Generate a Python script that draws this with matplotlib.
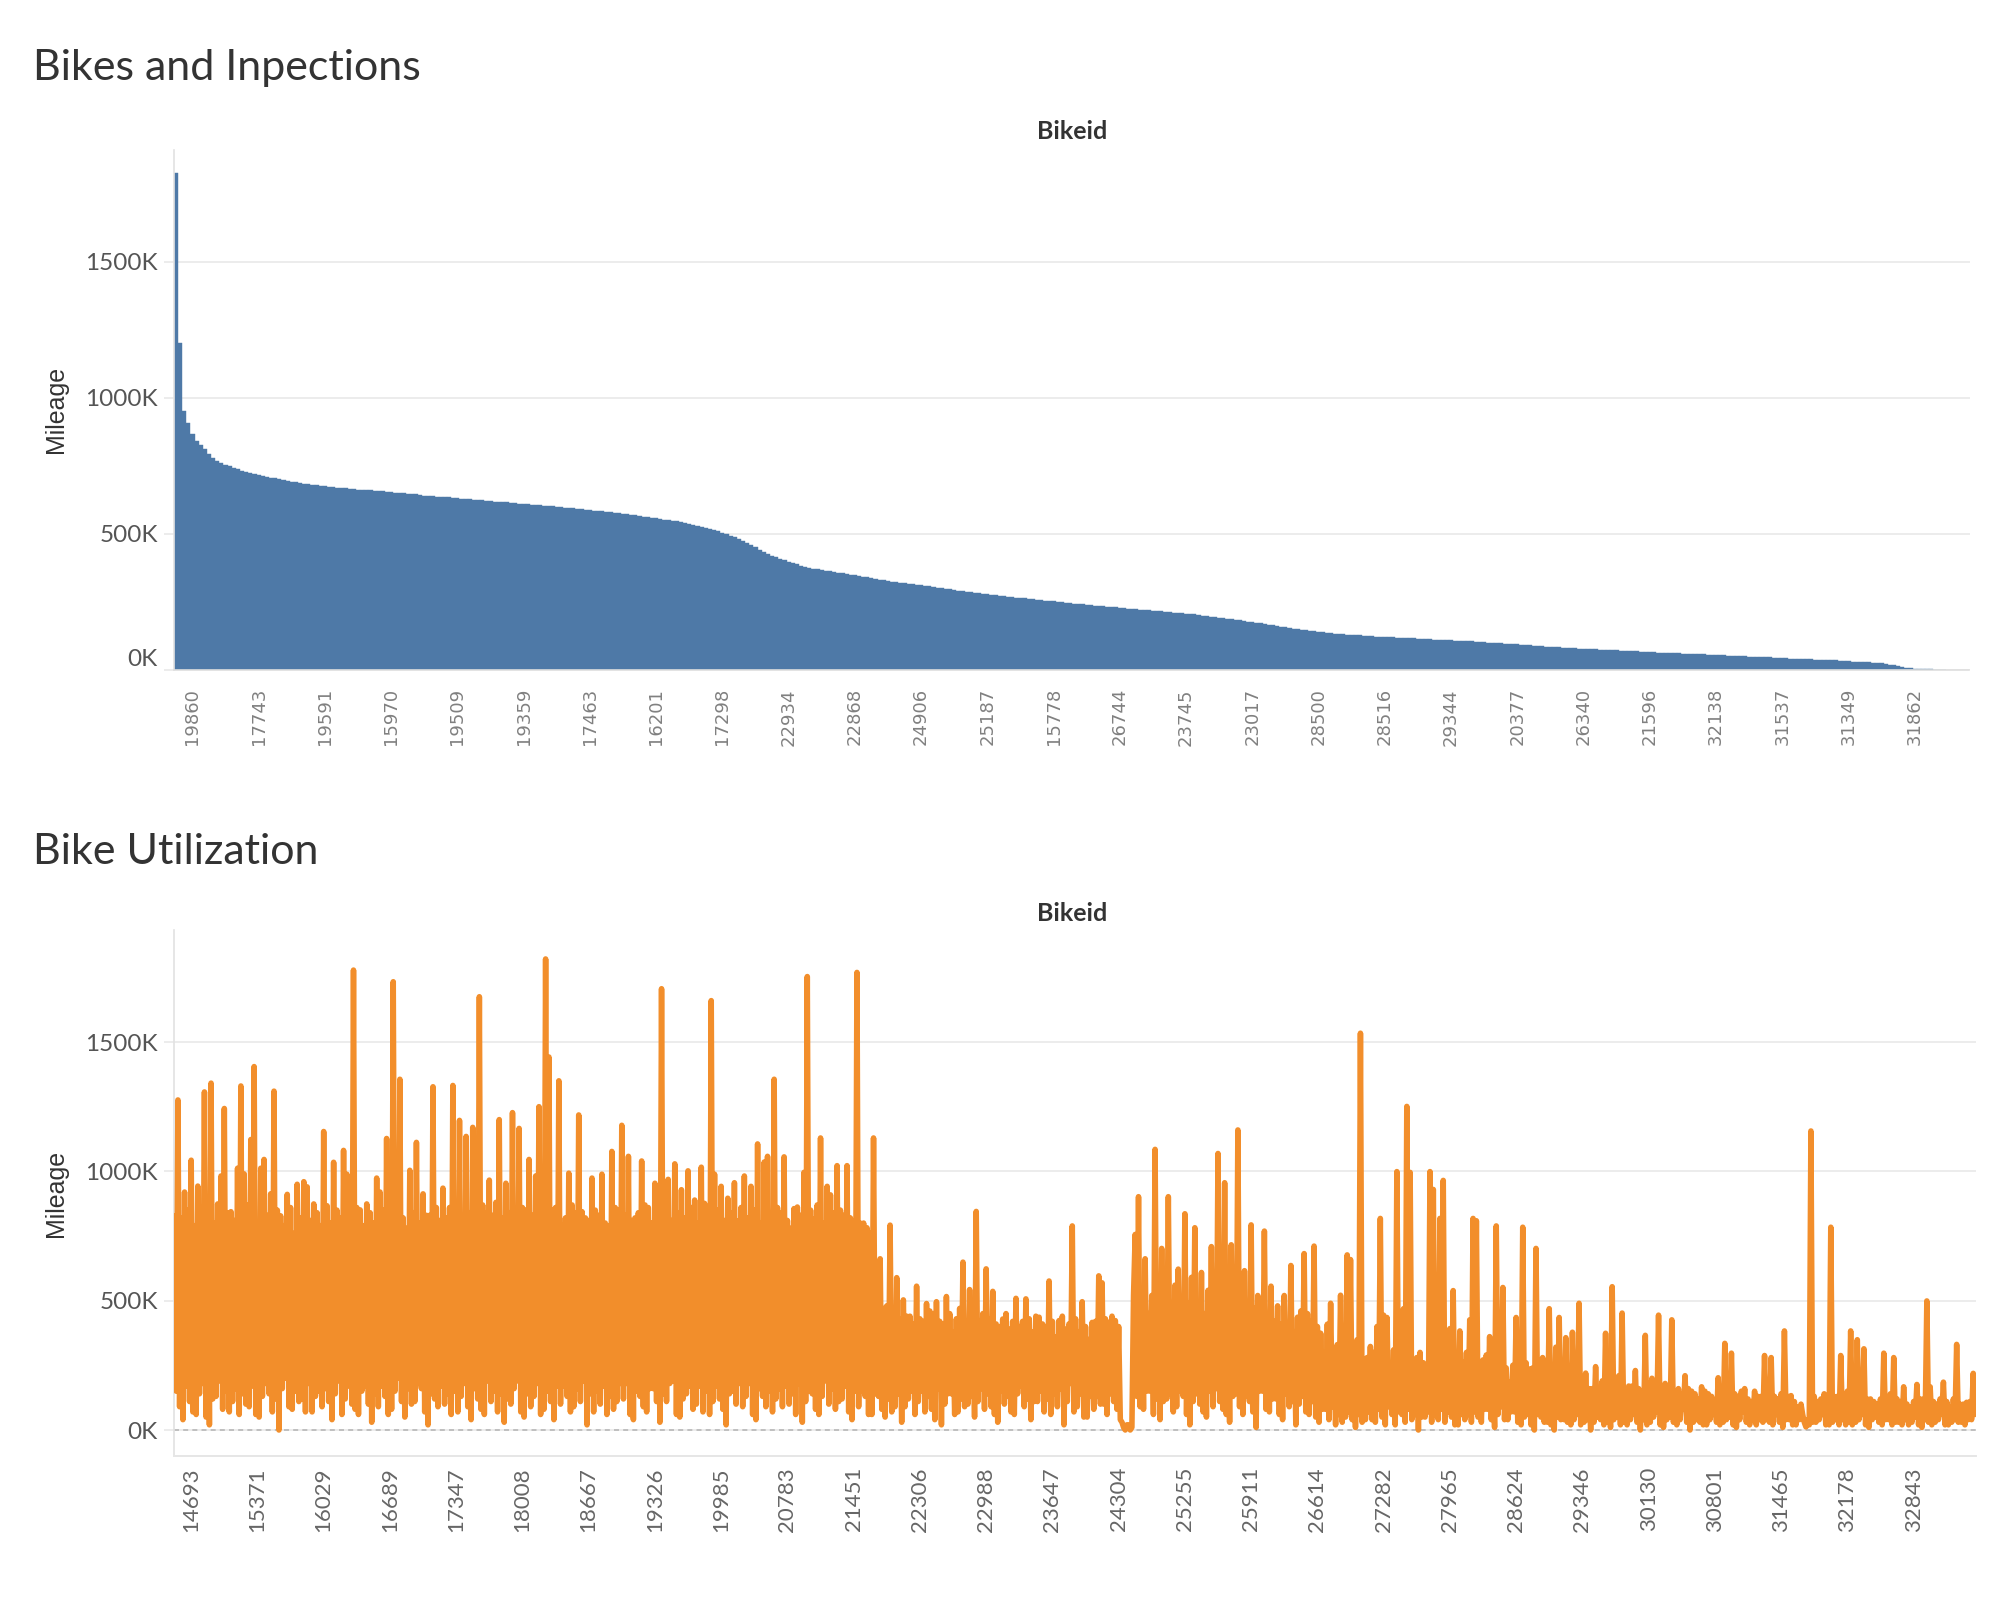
import numpy as np
import matplotlib
matplotlib.use("Agg")
import matplotlib.pyplot as plt
from matplotlib.ticker import FuncFormatter

plt.rcParams["path.simplify"] = False

# mileage per bike (thousands), sorted high to low
bike_mileage_k = [
    1827, 1200, 952, 908, 868, 842, 827, 812, 795, 778, 769, 760, 755, 750, 744, 737, 731, 728, 724, 720,
    717, 713, 711, 707, 705, 701, 698, 696, 692, 690, 688, 685, 683, 681, 679, 677, 675, 673, 671, 669,
    669, 668, 667, 665, 663, 662, 662, 660, 659, 658, 656, 654, 653, 652, 650, 649, 648, 647, 645, 643,
    641, 640, 639, 637, 636, 635, 634, 633, 632, 630, 628, 627, 625, 624, 623, 622, 621, 619, 618, 617,
    616, 614, 613, 611, 610, 609, 607, 606, 605, 604, 602, 601, 600, 598, 597, 596, 594, 592, 591, 589,
    588, 586, 584, 583, 581, 579, 577, 576, 574, 572, 570, 568, 565, 563, 561, 559, 557, 555, 552, 550,
    548, 546, 543, 540, 537, 533, 529, 526, 523, 519, 515, 509, 504, 499, 493, 487, 481, 473, 466, 459,
    451, 442, 434, 425, 420, 414, 409, 403, 398, 394, 389, 382, 379, 376, 373, 371, 368, 365, 362, 359,
    357, 355, 353, 350, 348, 346, 343, 340, 337, 335, 332, 330, 328, 325, 323, 321, 319, 317, 315, 313,
    311, 309, 307, 305, 302, 300, 298, 296, 294, 292, 290, 288, 286, 284, 282, 280, 278, 276, 274, 272,
    271, 269, 268, 266, 265, 263, 261, 260, 258, 257, 255, 254, 252, 250, 249, 247, 246, 244, 243, 241,
    240, 238, 237, 235, 234, 233, 231, 230, 228, 227, 226, 224, 223, 222, 220, 219, 218, 216, 215, 214,
    212, 211, 210, 208, 207, 205, 204, 202, 200, 198, 196, 194, 192, 190, 188, 186, 184, 182, 180, 178,
    176, 174, 171, 169, 167, 164, 162, 159, 157, 154, 152, 150, 148, 146, 144, 142, 140, 139, 137, 136,
    134, 132, 131, 130, 129, 128, 127, 126, 125, 124, 123, 122, 122, 121, 120, 119, 118, 118, 117, 116,
    115, 114, 114, 113, 112, 111, 110, 110, 109, 108, 107, 106, 106, 105, 104, 103, 102, 101, 100, 99,
    98, 97, 96, 95, 94, 93, 92, 91, 90, 88, 87, 86, 85, 84, 83, 82, 81, 81, 80, 79,
    78, 77, 76, 76, 75, 74, 73, 73, 72, 71, 70, 70, 69, 68, 67, 67, 66, 65, 64, 64,
    63, 62, 62, 61, 60, 60, 59, 59, 58, 57, 56, 56, 55, 54, 54, 53, 52, 51, 51, 50,
    49, 49, 48, 47, 46, 46, 45, 44, 44, 43, 42, 42, 41, 40, 40, 39, 38, 38, 37, 37,
    36, 35, 34, 33, 32, 31, 31, 30, 29, 28, 27, 25, 24, 22, 20, 18, 15, 12, 8, 6,
    4, 2, 2, 2, 2, 1, 1, 1,
]
top_labels = ["19860", "17743", "19591", "15970", "19509", "19359", "17463", "16201", "17298",
              "22934", "22868", "24906", "25187", "15778", "26744", "23745", "23017", "28500",
              "28516", "29344", "20377", "26340", "21596", "32138", "31537", "31349", "31862"]

# mileage per bike (thousands) in bike-id order, bottom chart (40 bikes per row)
util_mileage_k = [
    828, 150, 1276, 90, 820, 40, 920, 170, 850, 110, 1043, 70, 790, 60, 943, 140, 860, 180, 1307, 50,
    830, 20, 1341, 120, 800, 130, 874, 190, 982, 80, 1243, 150, 840, 70, 844, 110, 810, 160, 1012, 60,
    1330, 140, 990, 100, 870, 90, 1123, 170, 1405, 60, 800, 50, 1012, 130, 1046, 180, 830, 140, 913, 70,
    1310, 120, 850, 0, 828, 160, 790, 200, 911, 90, 860, 80, 760, 150, 950, 110, 820, 120, 960, 70,
    940, 180, 810, 70, 874, 130, 840, 150, 790, 90, 1154, 160, 867, 110, 800, 40, 1035, 140, 850, 190,
    820, 60, 1081, 120, 989, 170, 830, 100, 1778, 80, 860, 60, 851, 150, 790, 170, 874, 100, 840, 30,
    800, 140, 974, 90, 920, 170, 850, 130, 1127, 60, 810, 80, 1733, 150, 870, 200, 1356, 110, 820, 50,
    780, 160, 1004, 100, 840, 110, 1112, 180, 800, 160, 913, 70, 830, 20, 830, 140, 1327, 120, 860, 90,
    810, 170, 935, 100, 820, 140, 860, 60, 1332, 150, 850, 70, 1197, 130, 800, 180, 1135, 90, 840, 40,
    1170, 160, 810, 120, 1675, 80, 870, 60, 840, 190, 966, 110, 830, 150, 880, 70, 1200, 140, 820, 30,
    954, 120, 840, 100, 1227, 160, 800, 190, 1166, 70, 860, 50, 850, 140, 1046, 90, 830, 130, 982, 180,
    1250, 60, 810, 80, 1821, 150, 1442, 110, 850, 40, 860, 170, 1350, 100, 790, 170, 820, 130, 993, 70,
    870, 90, 840, 160, 1218, 110, 844, 190, 820, 20, 810, 140, 974, 70, 850, 150, 830, 100, 989, 170,
    800, 60, 790, 130, 1077, 80, 860, 110, 850, 180, 1178, 120, 830, 180, 1058, 60, 810, 40, 820, 150,
    840, 130, 1040, 90, 870, 70, 860, 160, 800, 160, 954, 110, 830, 30, 1706, 140, 850, 110, 969, 180,
    810, 190, 1029, 60, 840, 50, 929, 120, 820, 140, 1002, 170, 860, 80, 889, 100, 800, 170, 1016, 70,
    876, 150, 830, 60, 1660, 110, 989, 170, 850, 120, 942, 80, 810, 20, 896, 140, 840, 150, 956, 100,
    809, 180, 860, 90, 982, 130, 820, 180, 942, 60, 850, 40, 1106, 160, 800, 130, 1036, 90, 1058, 150,
    840, 70, 1356, 120, 860, 160, 840, 90, 1056, 170, 810, 100, 780, 140, 856, 60, 862, 180, 830, 30,
    996, 110, 1753, 150, 850, 140, 816, 80, 870, 60, 1129, 130, 800, 190, 942, 100, 909, 160, 840, 80,
    1022, 110, 850, 120, 830, 170, 1022, 70, 820, 40, 769, 150, 1769, 90, 800, 150, 800, 130, 782, 60,
    760, 60, 1129, 140, 600, 130, 662, 80, 470, 50, 480, 120, 792, 70, 450, 90, 589, 140, 430, 30,
    503, 90, 440, 120, 440, 150, 410, 60, 556, 110, 430, 150, 420, 70, 489, 130, 460, 80, 450, 40,
    496, 160, 420, 20, 410, 100, 516, 140, 450, 140, 380, 60, 430, 70, 470, 120, 649, 90, 410, 100,
    543, 130, 440, 50, 845, 110, 420, 160, 450, 80, 623, 140, 430, 90, 536, 60, 410, 30, 400, 150,
    429, 100, 450, 130, 390, 70, 420, 60, 509, 140, 400, 170, 420, 90, 507, 120, 430, 40, 380, 110,
    440, 110, 436, 150, 410, 70, 400, 120, 576, 60, 420, 140, 360, 90, 423, 160, 440, 20, 390, 110,
    410, 180, 789, 70, 430, 90, 380, 140, 496, 50, 400, 50, 350, 130, 416, 80, 420, 130, 596, 100,
    569, 100, 430, 60, 416, 140, 440, 110, 423, 80, 400, 40, 30, 10, 0, 20, 20, 0, 10, 520,
    756, 130, 902, 90, 480, 80, 662, 150, 450, 150, 520, 60, 1085, 120, 500, 40, 702, 110, 470, 120,
    902, 140, 470, 70, 560, 90, 622, 150, 440, 130, 836, 60, 490, 20, 590, 110, 782, 140, 450, 100,
    609, 70, 450, 50, 540, 150, 709, 90, 480, 160, 1069, 110, 430, 80, 956, 60, 490, 30, 716, 130,
    460, 140, 1160, 90, 480, 60, 616, 130, 440, 110, 793, 70, 470, 10, 520, 150, 430, 150, 769, 80,
    440, 70, 556, 120, 420, 120, 480, 60, 410, 40, 520, 140, 400, 90, 636, 110, 380, 20, 436, 100,
    460, 130, 682, 70, 450, 60, 420, 110, 711, 50, 400, 30, 374, 80, 300, 80, 409, 40, 490, 90,
    280, 20, 330, 60, 521, 30, 310, 50, 677, 70, 659, 40, 290, 10, 349, 60, 1534, 30, 270, 40,
    280, 70, 323, 40, 300, 30, 400, 80, 818, 50, 444, 20, 435, 90, 254, 60, 310, 20, 999, 70,
    290, 60, 469, 30, 1251, 80, 996, 40, 271, 60, 280, 0, 300, 50, 260, 50, 245, 70, 999, 30,
    930, 60, 300, 40, 818, 80, 965, 30, 280, 70, 392, 50, 539, 20, 270, 20, 383, 60, 262, 40,
    300, 60, 426, 30, 818, 70, 809, 50, 260, 30, 271, 80, 290, 80, 361, 40, 250, 10, 789, 60,
    260, 90, 551, 40, 240, 40, 185, 70, 250, 70, 435, 30, 230, 20, 784, 50, 260, 60, 236, 20,
    240, 0, 702, 60, 220, 50, 280, 30, 240, 30, 469, 20, 210, 0, 320, 50, 435, 40, 220, 40,
    357, 30, 190, 20, 378, 40, 180, 60, 490, 20, 170, 30, 220, 40, 160, 0, 160, 30, 245, 50,
    150, 40, 190, 20, 374, 30, 170, 10, 554, 40, 180, 50, 210, 20, 452, 30, 160, 20, 170, 40,
    170, 60, 230, 30, 160, 0, 150, 40, 366, 20, 180, 30, 200, 50, 150, 70, 444, 20, 170, 10,
    180, 40, 160, 50, 426, 30, 150, 20, 160, 40, 140, 80, 210, 30, 160, 0, 150, 30, 140, 40,
    120, 30, 167, 20, 150, 20, 140, 40, 130, 60, 110, 30, 202, 20, 140, 30, 335, 40, 130, 50,
    297, 20, 140, 10, 130, 40, 150, 70, 160, 30, 120, 20, 110, 40, 150, 20, 130, 40, 130, 30,
    288, 40, 140, 30, 280, 20, 130, 60, 120, 30, 140, 10, 383, 40, 130, 40, 133, 20, 110, 20,
    90, 40, 100, 60, 30, 12, 40, 20, 1156, 30, 130, 30, 110, 40, 120, 60, 140, 20, 120, 20,
    784, 30, 130, 40, 130, 20, 288, 40, 120, 20, 150, 30, 383, 20, 140, 30, 349, 40, 130, 60,
    314, 20, 120, 10, 120, 40, 110, 50, 100, 30, 120, 20, 297, 40, 110, 40, 140, 20, 280, 30,
    120, 30, 110, 20, 167, 40, 100, 20, 90, 30, 110, 50, 176, 20, 120, 10, 120, 40, 499, 30,
    167, 20, 110, 30, 100, 40, 120, 60, 185, 20, 110, 20, 90, 30, 120, 40, 331, 30, 100, 30,
    100, 20, 107, 40, 110, 40, 219, 60,
]
bottom_labels = ["14693", "15371", "16029", "16689", "17347", "18008", "18667", "19326", "19985",
                 "20783", "21451", "22306", "22988", "23647", "24304", "25255", "25911", "26614",
                 "27282", "27965", "28624", "29346", "30130", "30801", "31465", "32178", "32843"]

BLUE = "#4e79a7"
ORANGE = "#f28e2b"
GRID = "#ececec"
TITLE_FONT = ["Lato", "DejaVu Sans"]

kfmt = FuncFormatter(lambda v, p: f"{v / 1000:.0f}K")


def style_axis(ax):
    ax.spines["top"].set_visible(False)
    ax.spines["right"].set_visible(False)
    ax.spines["left"].set_color("#e2e2e2")
    ax.spines["left"].set_linewidth(1.2)
    ax.yaxis.set_major_formatter(kfmt)
    ax.set_yticks([0, 500000, 1000000, 1500000])
    ax.yaxis.grid(True, color=GRID, linewidth=1.4)
    ax.set_axisbelow(True)
    ax.tick_params(axis="y", length=7.5, width=1.4, color=GRID, pad=4,
                   labelsize=17.5, labelcolor="#555555")
    for t in ax.get_yticklabels():
        t.set_family(TITLE_FONT)


fig = plt.figure(figsize=(20, 16), dpi=100)

# ---- top: bikes and inspections ----
ax1 = fig.add_axes([0.0869, 0.58125, 0.8982, 0.325])
x1 = np.arange(len(bike_mileage_k))
ax1.bar(x1, np.array(bike_mileage_k) * 1000, width=1.0, color=BLUE,
        edgecolor=BLUE, linewidth=0.3)
ax1.set_xlim(-0.5, 433.4)
ax1.set_ylim(0, 1911000)
style_axis(ax1)
ax1.spines["bottom"].set_color("#dedede")
ax1.spines["bottom"].set_linestyle((0, (1, 1)))
ax1.spines["bottom"].set_linewidth(1.2)
ax1.set_xticks(4 + 16 * np.arange(len(top_labels)))
ax1.set_xticklabels(top_labels, rotation=90, va="top", ha="center",
                    fontsize=13, color="#808080", family="DejaVu Sans")
ax1.tick_params(axis="x", length=0, pad=13)
ax1.yaxis.get_major_ticks()[0].label1.set_verticalalignment("bottom")

# ---- bottom: bike utilization ----
ax2 = fig.add_axes([0.0869, 0.09, 0.9012, 0.32875])
x2 = np.arange(len(util_mileage_k))
ax2.axhline(0, color="#b8b8b8", linewidth=1.2, linestyle=(0, (3, 2.5)), zorder=1)
ax2.plot(x2, np.array(util_mileage_k) * 1000, color=ORANGE, linewidth=4.0,
         solid_joinstyle="round", solid_capstyle="round", zorder=3)
ax2.set_xlim(-0.5, 1087.8)
ax2.set_ylim(-100500, 1933000)
style_axis(ax2)
ax2.spines["bottom"].set_color("#e6e6e6")
ax2.spines["bottom"].set_linewidth(1.4)
ax2.set_xticks(10 + 40 * np.arange(len(bottom_labels)))
ax2.set_xticklabels(bottom_labels, rotation=90, va="top", ha="center",
                    fontsize=16, color="#666666", family=TITLE_FONT)
ax2.tick_params(axis="x", length=0, pad=8)

# ---- texts ----
fig.text(0.0165, 0.95, "Bikes and Inpections", fontsize=31, color="#333333",
         family=TITLE_FONT, va="baseline")
fig.text(0.0165, 0.46, "Bike Utilization", fontsize=31, color="#333333",
         family=TITLE_FONT, va="baseline")
for yy in (0.918, 0.429):
    fig.text(0.536, yy, "Bikeid", fontsize=18, fontweight="bold", color="#333333",
             family=TITLE_FONT, ha="center", va="center")
for yy in (0.744, 0.2544):
    fig.text(0.028, yy, "Mileage", fontsize=18, color="#333333", rotation=90,
             family=["Liberation Sans", "DejaVu Sans"], ha="center", va="center")

fig.savefig("out.png", dpi=100)
